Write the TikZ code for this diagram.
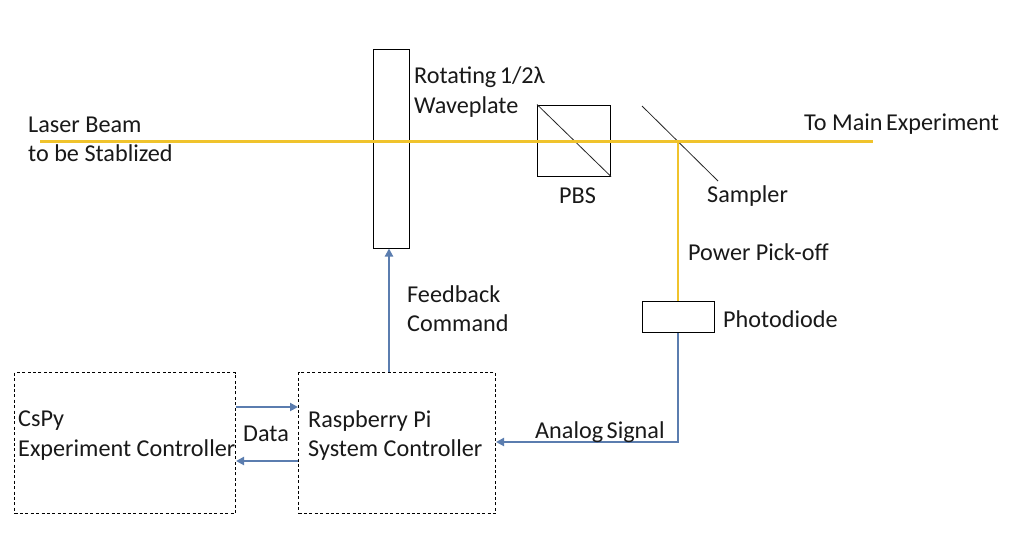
\documentclass[tikz,border=0pt]{standalone}
\usepackage{fontspec}
\setmainfont{Carlito}
\usetikzlibrary{arrows.meta,calc}
\definecolor{beam}{HTML}{F0C32C}
\definecolor{sig}{HTML}{5B7DAF}
\tikzset{
  optic/.style={draw=black,line width=1pt,inner sep=0pt,fill=none},
  ctrl/.style={draw=black,line width=1pt,dash pattern=on 3pt off 2.4pt,inner sep=0pt},
  thinline/.style={draw=black!85,line width=0.8pt},
  beamline/.style={draw=beam,line width=2.8pt},
  sigline/.style={draw=sig,line width=2pt,-{Triangle[length=8pt,width=8pt]}},
  lab/.style={anchor=west,inner sep=0pt,font=\fontsize{24.2}{28}\selectfont,align=left,text=black!90}
}
\begin{document}
\begin{tikzpicture}[x=1pt,y=-1pt]
\useasboundingbox (0,0) rectangle (1015,549);
\fill[white] (0,0) rectangle (1015,549);
% optics
\node[optic,minimum width=36pt,minimum height=199pt] (wp) at (391.5,148.5) {};
\node[optic,minimum width=73pt,minimum height=71pt] (pbs) at (574,140.5) {};
\node[optic,minimum width=72pt,minimum height=31pt] (pd) at (678.5,317) {};
% controllers
\node[ctrl,minimum width=221pt,minimum height=141pt] (cspy) at (125,443) {};
\node[ctrl,minimum width=197pt,minimum height=141pt] (rpi) at (397,443) {};
% helper points
\coordinate (bs) at (40,141.5);
\coordinate (be) at (873,141.5);
\coordinate (tap) at (678,141.5);
\coordinate (sa) at (642,106);
\coordinate (sb) at (718,181);
\coordinate (d1) at (0,407);
\coordinate (d2) at (0,461);
\coordinate (fb) at (389,0);
\coordinate (corner) at (678,442);
\coordinate (an) at (0,442);
% diagonal lines
\draw[thinline] (pbs.north west) -- (pbs.south east);
\draw[thinline] (sa) -- (sb);
% beams
\draw[beamline] (bs) -- (be);
\draw[beamline] (tap) -- (tap |- pd.north);
% signals
\draw[sigline] (fb |- rpi.north) -- (fb |- wp.south);
\draw[sigline] (cspy.east |- d1) -- (rpi.west |- d1);
\draw[sigline] (rpi.west |- d2) -- (cspy.east |- d2);
\draw[sigline] (corner |- pd.south) -- (corner) -- (rpi.east |- an);
% labels
\node[lab] (l1) at (28,124.5) {Laser Beam};
\node[lab] (l2) at (28,153.5) {to be Stablized};
\node[lab] (l3) at (414,77) {Rotating\hspace{-2pt} 1/2λ};
\node[lab] (l4) at (414,107) {Waveplate};
\node[lab] (l5) at (559,196) {PBS};
\node[lab] (l6) at (804,124) {To Main\hspace{-2pt} Experiment};
\node[lab] (l7) at (707,196) {Sampler};
\node[lab] (l8) at (688,252.5) {Power Pick-off};
\node[lab] (l9) at (723,319.5) {Photodiode};
\node[lab] (l10) at (407,294.5) {Feedback};
\node[lab] (l11) at (407,323.5) {Command};
\node[lab] (l12) at (18,421) {CsPy};
\node[lab] (l13) at (18,450) {Experiment Controller};
\node[lab] (l14) at (243,434) {Data};
\node[lab] (l15) at (308,421) {Raspberry Pi};
\node[lab] (l16) at (308,450) {System Controller};
\node[lab] (l17) at (535,432) {Analog\hspace{-2pt} Signal};
\end{tikzpicture}
\end{document}
